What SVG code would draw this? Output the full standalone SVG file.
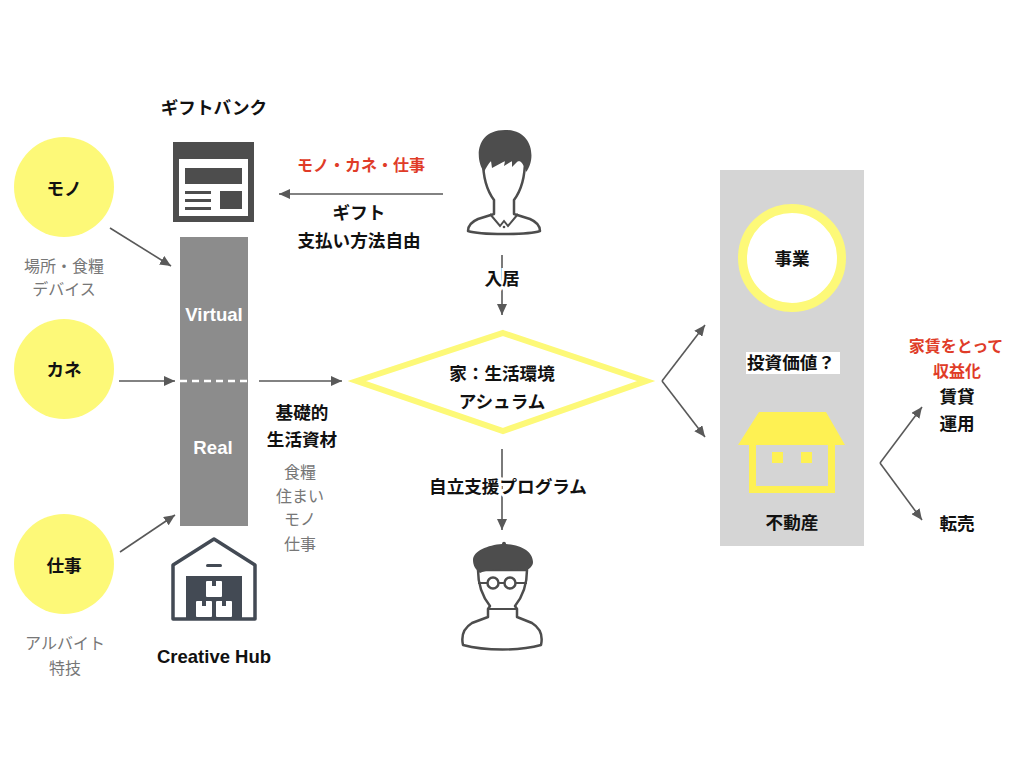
<svg xmlns="http://www.w3.org/2000/svg" width="1024" height="768" viewBox="0 0 1024 768">
<style>
text{font-family:"Noto Sans CJK JP","Liberation Sans",sans-serif;text-anchor:middle;dominant-baseline:central}
.b{font-weight:700;font-size:17.6px;fill:#111}
.r{font-weight:700;font-size:16px;fill:#e03c28}
.g{font-size:16px;fill:#777;font-weight:400}
.w{font-family:"Liberation Sans",sans-serif;font-weight:700;font-size:18.600px;fill:#fff}
.e{font-family:"Liberation Sans",sans-serif;font-weight:700;font-size:18.500px;fill:#111}
.y{fill:#fdf978}
.c{stroke:#595959;stroke-width:1.6;fill:none;marker-end:url(#a)}
.d{fill:#4d4d4d}
.o{fill:#fff;stroke:#4d4d4d;stroke-width:2.5;stroke-linejoin:round}
.h{fill:#fef153}
.k{fill:#434a54}
</style>
<defs><marker id="a" markerUnits="userSpaceOnUse" markerWidth="12" markerHeight="10" refX="11" refY="5" orient="auto"><path d="M0 0L11 5L0 10z" fill="#595959"/></marker></defs>
<g id="connectors">
<path class="c" d="M110 228L171 266"/>
<path class="c" d="M119 381L175 381"/>
<path class="c" d="M120 552L175 515"/>
<path class="c" d="M259 381L342 381"/>
<path class="c" d="M443 194L279 194"/>
<path class="c" d="M502 255V315"/>
<path class="c" d="M502 449V530"/>
<path class="c" d="M662 381L705 325"/>
<path class="c" d="M662 381L705 437"/>
<path class="c" d="M880 463L922 407"/>
<path class="c" d="M880 463L922 520"/>
</g>
<g id="mono"><circle class="y" cx="64" cy="187" r="50"/><text class="b" x="64" y="187">モノ</text><text class="g" x="64" y="265">場所・食糧</text><text class="g" x="64" y="288">デバイス</text></g>
<g id="kane"><circle class="y" cx="64" cy="369" r="50"/><text class="b" x="64" y="368">カネ</text></g>
<g id="shigoto"><circle class="y" cx="64" cy="564" r="50"/><text class="b" x="64" y="564">仕事</text><text class="g" x="65" y="642">アルバイト</text><text class="g" x="65" y="667">特技</text></g>
<g id="giftbank"><text class="b" x="214" y="106">ギフトバンク</text>
<rect class="d" x="173" y="142" width="81" height="80"/><rect x="179" y="159" width="69" height="57" fill="#fff"/>
<rect class="d" x="185" y="168" width="57" height="16"/><rect class="d" x="185" y="191" width="26" height="3"/><rect class="d" x="185" y="199" width="26" height="3"/><rect class="d" x="185" y="207" width="26" height="3"/><rect class="d" x="220" y="191" width="22" height="18"/></g>
<g id="pillar"><rect x="180" y="237" width="68" height="289" fill="#8c8c8c"/><path d="M180 381H248" stroke="#fff" stroke-width="2.5" stroke-dasharray="7 5"/><text class="w" x="214" y="314">Virtual</text><text class="w" x="213" y="447">Real</text></g>
<g id="hub"><path d="M173 619V565L214 539L255 565V619Z" fill="#fff" stroke="#434a54" stroke-width="3.500" stroke-linejoin="round"/><rect class="k" x="206" y="564" width="16" height="3" rx="1.500"/><rect class="k" x="186" y="576" width="56" height="44"/><rect x="206" y="581" width="16" height="16" rx="1" fill="#fff"/><rect x="196" y="601" width="16" height="16" rx="1" fill="#fff"/><rect x="216" y="601" width="16" height="16" rx="1" fill="#fff"/><rect class="k" x="212" y="581" width="4" height="5"/><rect class="k" x="202" y="601" width="4" height="5"/><rect class="k" x="222" y="601" width="4" height="5"/><text class="e" x="214" y="656">Creative Hub</text></g>
<g id="person1"><path class="o" d="M483 160C483 180 488 192 494 200V214L478 219C471 222 468 226 468 231C480 235 528 235 540 231C540 226 537 222 530 219L514 214V200C520 192 525 180 525 160Z"/><path class="d" d="M484 172C475 160 475 130 505 130C534 130 536 160 526 172C525 166 522 163 519 160L512 167L512 161L504 166L505 161L492 168L491 161C488 164 486 168 484 172Z"/><path d="M490 214L500 226L504 221L508 226L518 214" fill="none" stroke="#4d4d4d" stroke-width="2"/><circle class="d" cx="504" cy="227" r="1.300"/></g>
<g id="giftlabels"><text class="r" x="361" y="164">モノ・カネ・仕事</text><text class="b" x="359" y="211">ギフト</text><text class="b" x="359" y="239">支払い方法自由</text></g>
<g id="nyukyo"><text class="b" x="502" y="277" style="paint-order:stroke" stroke="#fff" stroke-width="6">入居</text></g>
<g id="home"><path d="M503 333L646 381L503 431L357 381Z" fill="#fff" stroke="#fdf978" stroke-width="6"/><text class="b" x="502" y="372">家：生活環境</text><text class="b" x="502" y="400">アシュラム</text></g>
<g id="basic"><text class="b" x="302" y="411">基礎的</text><text class="b" x="302" y="438">生活資材</text><text class="g" x="300" y="471">食糧</text><text class="g" x="300" y="495">住まい</text><text class="g" x="300" y="518">モノ</text><text class="g" x="300" y="543">仕事</text></g>
<g id="program"><text class="b" x="508" y="485" style="paint-order:stroke" stroke="#fff" stroke-width="6">自立支援プログラム</text></g>
<g id="person2"><path class="o" d="M478 570C478 585 482 596 490 606L488 609V617L472 623C464 628 461 636 463 645C485 651 520 651 541 645C543 636 540 628 532 623L517 617V609L515 606C523 596 527 585 527 570Z"/><path d="M488 609H517" stroke="#4d4d4d" stroke-width="2" fill="none"/><path class="d" d="M473 560C473 551 488 545 502 544C502 541 506 541 506 544C522 545 533 552 533 562C533 566 530 568 526 571C515 568 490 568 480 573C475 569 473 565 473 560Z"/><path d="M478 583H487M499 583H504M516 583H527" stroke="#4d4d4d" stroke-width="2" fill="none"/><circle cx="493" cy="583" r="5.500" fill="#fff" stroke="#4d4d4d" stroke-width="2.500"/><circle cx="510" cy="583" r="5.500" fill="#fff" stroke="#4d4d4d" stroke-width="2.500"/></g>
<g id="panel"><rect x="720" y="170" width="144" height="376" fill="#d5d5d5"/></g>
<g id="jigyo"><circle cx="792" cy="258" r="49.500" fill="#fff" stroke="#fdf978" stroke-width="9"/><text class="b" x="792" y="257">事業</text></g>
<g id="toshi"><rect x="746" y="352" width="94" height="22" fill="#fff"/><text class="b" x="791" y="361">投資価値？</text></g>
<g id="fudosan"><path class="h" d="M759 412H826L845 445H738Z"/><path class="h" d="M749 445H835V493H749ZM756 445V486H828V445Z" fill-rule="evenodd"/><rect class="h" x="772" y="452" width="11" height="11"/><rect class="h" x="801" y="452" width="11" height="11"/><text class="b" x="792" y="521">不動産</text></g>
<g id="income"><text class="r" x="956" y="345">家賃をとって</text><text class="r" x="957" y="370">収益化</text><text class="b" x="957" y="395">賃貸</text><text class="b" x="957" y="422">運用</text><text class="b" x="957" y="522">転売</text></g>
</svg>
